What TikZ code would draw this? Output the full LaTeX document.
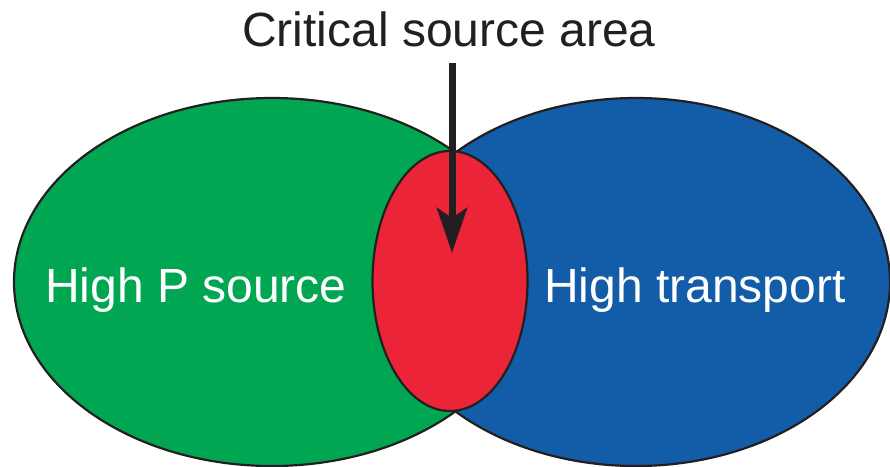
\documentclass[tikz,border=0pt]{standalone}
\usepackage{fontspec}
\setmainfont{Liberation Sans}
\usetikzlibrary{shapes.geometric,arrows.meta}

\definecolor{srcgreen}{RGB}{0,166,81}
\definecolor{trblue}{RGB}{19,92,168}
\definecolor{csared}{RGB}{236,36,56}
\definecolor{outline}{RGB}{35,31,32}

\tikzset{
  zone/.style={ellipse, draw=outline, line width=2.2pt, inner sep=0pt},
  label/.style={font=\fontsize{48}{52}\selectfont}
}

\begin{document}
\begin{tikzpicture}[x=1pt,y=-1pt]
  \useasboundingbox (0,0) rectangle (890,466);

  % the two large areas, then the overlap on top
  \node[zone, fill=srcgreen, minimum width=516pt, minimum height=368pt] (psource) at (272,282) {};
  \node[zone, fill=trblue, minimum width=508pt, minimum height=368pt] (transport) at (636,282) {};
  \node[zone, fill=csared, minimum width=155pt, minimum height=260pt] (csa) at (450,281) {};

  \node[label, white, anchor=base] (psourcetext) at (196,302) {High P source};
  \node[label, white, anchor=base] (transporttext) at (695,302) {High transport};

  \node[label, outline, anchor=base, inner sep=0pt] (title) at (449,46) {Critical source area};

  % arrow into the critical source area
  \coordinate (arrowstart) at (452,63);
  \coordinate (tip) at (452,253);
  \draw[outline, line width=7pt, -{Stealth[length=45pt, width=30pt, inset=10pt]}]
    (arrowstart) -- (tip);
\end{tikzpicture}
\end{document}
